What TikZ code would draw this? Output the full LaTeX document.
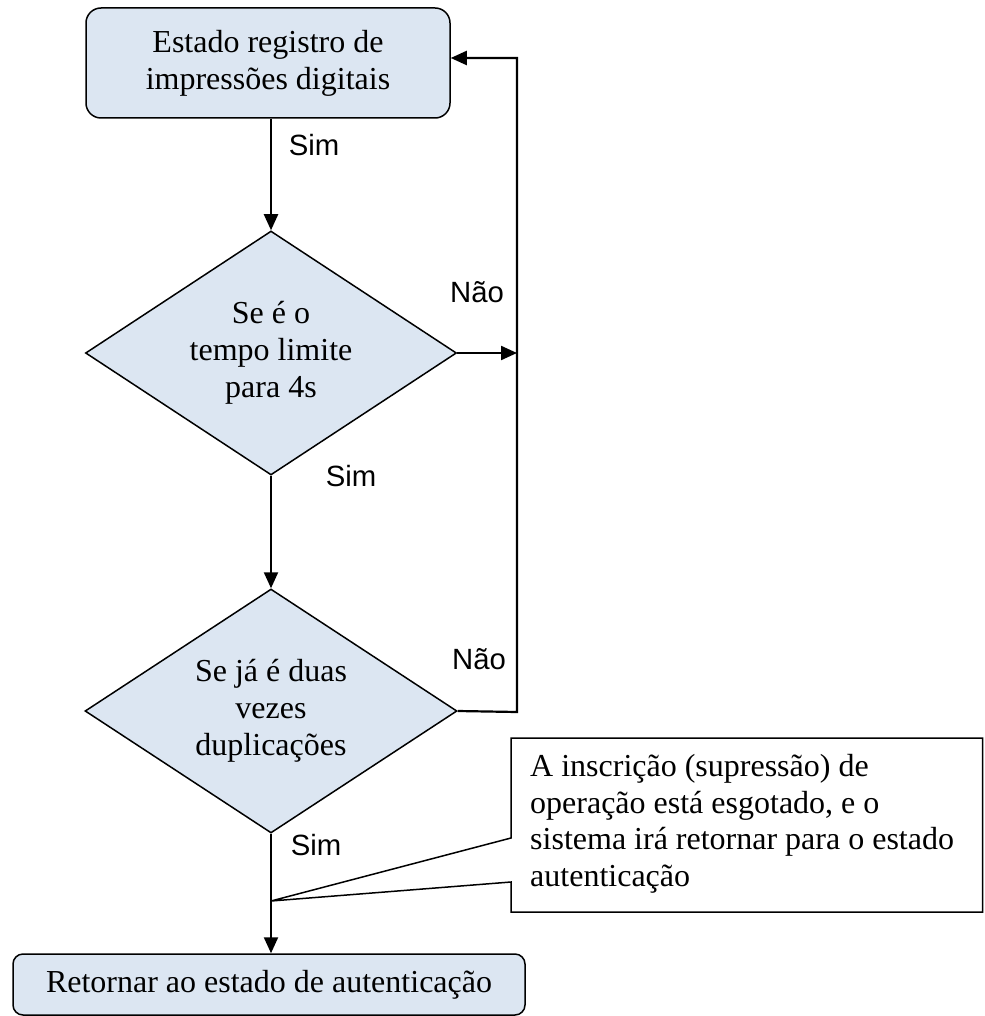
\documentclass[tikz,border=0pt]{standalone}
\usepackage{fontspec}
\setmainfont{Liberation Serif}
\newfontfamily\labelfont{Liberation Sans}
\usetikzlibrary{shapes.geometric,arrows.meta}
\definecolor{boxblue}{RGB}{220,230,242}
\begin{document}
\begin{tikzpicture}[x=1pt,y=-1pt,
  shapeline/.style={draw=black,line width=1.5pt,fill=boxblue},
  statebox/.style={shapeline,rounded corners=15pt,inner sep=0pt,align=center,font=\fontsize{32}{37}\selectfont},
  decision/.style={shapeline,diamond,aspect=1.52,inner sep=0pt,align=center,font=\fontsize{32}{37}\selectfont},
  flow/.style={line width=2.2pt,-{Triangle[length=16pt,width=14pt]}},
  lbl/.style={font=\labelfont\fontsize{29.3}{32}\selectfont,inner sep=0pt},
  notebox/.style={draw=black,line width=1.5pt,fill=white},
  notetext/.style={inner sep=0pt,align=left,font=\fontsize{32}{36.5}\selectfont}
]
\useasboundingbox (0,0) rectangle (984,1016);

% nodes
\node[statebox,minimum width=364pt,minimum height=110pt] (top) at (268,63) {Estado registro de\\impressões digitais};
\node[decision,minimum width=371pt,minimum height=244pt] (d1) at (271,353) {Se é o\\tempo limite\\para 4s};
\node[decision,minimum width=372pt,minimum height=244pt] (d2) at (271,711) {Se já é duas\\vezes\\duplicações};
\node[statebox,rounded corners=10pt,minimum width=512pt,minimum height=61pt] (end) at (269,984.5) {Retornar ao estado de autenticação};

% callout
\coordinate (tip) at (271,901);
\draw[notebox] (511,738) -- (982.5,738) -- (982.5,912) -- (511,912) -- (511,882) -- (tip) -- (511,838) -- cycle;
\node[notetext,anchor=west] (note) at (530,824) {A inscrição (supressão) de\\operação está esgotado, e o\\sistema irá retornar para o estado\\autenticação};

% connector corners
\coordinate (c1) at (517,353);
\coordinate (c2) at (517,712);
\coordinate (c0) at (517,58);

% connectors
\draw[flow] (top.south -| d1.north) -- (d1.north);
\draw[flow] (d1.south) -- (d2.north);
\draw[flow] (d2.south) -- (d2.south |- end.north);
\draw[flow] (d1.east) -- (c1);
\draw[flow] (d2.east) -- (c2) -- (c0) -- (c0 -| top.east);

% labels
\node[lbl] (s1) at (314,145) {Sim};
\node[lbl] (n1) at (477,292) {Não};
\node[lbl] (s2) at (351,476) {Sim};
\node[lbl] (n2) at (479,659) {Não};
\node[lbl] (s3) at (316,845) {Sim};
\end{tikzpicture}
\end{document}
